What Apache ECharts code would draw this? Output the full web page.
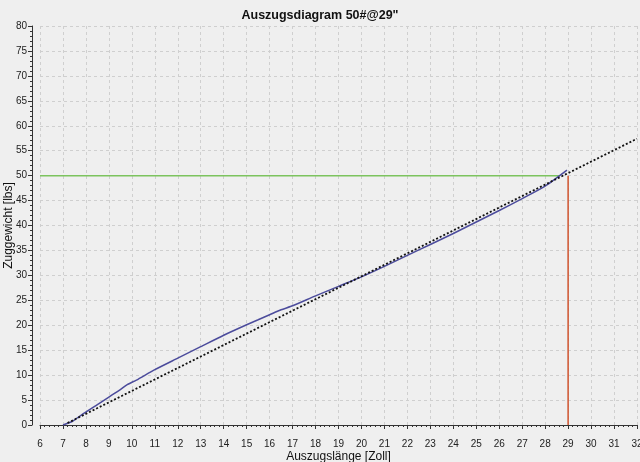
<!DOCTYPE html>
<html><head><meta charset="utf-8">
<script src="https://cdn.jsdelivr.net/npm/echarts@6/dist/echarts.min.js"></script>
<style>html,body{margin:0;padding:0;background:#efefef;overflow:hidden}#c{width:640px;height:462px}</style>
</head><body><div id="c"></div>
<script>
var titleText = 'Auszugsdiagram 50#@29"';
var xName = 'Auszugslänge [Zoll]';
var yName = 'Zuggewicht [lbs]';
// measured draw curve
var curveX = [7.0, 7.4, 7.8, 8.5, 9, 9.5, 9.8, 10.2, 11, 12, 13, 14, 15, 15.5, 16, 16.5, 17, 18, 19, 20, 21, 22, 23, 24, 25, 26, 27, 28, 28.95];
var curveY = [0, 0.7, 2.0, 4.1, 5.6, 7.1, 8.1, 9.0, 11.1, 13.4, 15.7, 18.0, 20.1, 21.1, 22.1, 23.1, 23.9, 25.9, 27.8, 29.7, 31.8, 34.0, 36.2, 38.4, 40.7, 43.0, 45.4, 47.9, 51.1];
// linear reference line
var refX = [7.2, 32];
var refY = [0.4, 57.4];
// target draw weight and length
var targetWeight = 50;
var targetLength = 29;
var greenX = [6, 28.6];
var redY = [0, 50];

function pairs(xs, ys){ return xs.map(function(x,i){ return [x, ys[i]]; }); }

var chart = echarts.init(document.getElementById('c'), null, {renderer:'canvas', width:640, height:462});
var axisFont = {fontFamily:'Liberation Sans', fontSize:10, color:'#222'};
chart.setOption({
  backgroundColor:'#efefef',
  animation:false,
  title:{text:titleText, left:'center', top:4, textStyle:{fontFamily:'Liberation Sans', fontWeight:'bold', fontSize:12.5, color:'#111'}},
  grid:{left:40, right:3, top:26, bottom:37, outerBoundsMode:'none', containLabel:false},
  xAxis:{type:'value', min:6, max:32, interval:1, offset:8,
    name:xName, nameLocation:'middle', nameGap:18, nameMoveOverlap:false,
    nameTextStyle:{fontFamily:'Liberation Sans', fontSize:12, color:'#111', verticalAlign:'top'},
    axisLine:{show:true, lineStyle:{color:'#333', width:1}},
    axisTick:{show:true, length:4, lineStyle:{color:'#333'}},
    minorTick:{show:true, splitNumber:5, length:2, lineStyle:{color:'#333'}},
    axisLabel:{show:true, margin:6, ...axisFont},
    splitLine:{show:true, lineStyle:{color:'#cfcfcf', type:[3,3], width:1}}
  },
  yAxis:{type:'value', min:0, max:80, interval:5, offset:8,
    name:yName, nameLocation:'middle', nameGap:17, nameMoveOverlap:false,
    nameTextStyle:{fontFamily:'Liberation Sans', fontSize:12, color:'#111', verticalAlign:'bottom'},
    axisLine:{show:true, lineStyle:{color:'#333', width:1}},
    axisTick:{show:true, length:4, lineStyle:{color:'#333'}},
    minorTick:{show:true, splitNumber:5, length:2, lineStyle:{color:'#333'}},
    axisLabel:{show:true, margin:5, ...axisFont},
    splitLine:{show:true, lineStyle:{color:'#cfcfcf', type:[3,3], width:1}}
  },
  series:[
    {type:'line', data:pairs(greenX,[targetWeight,targetWeight]), symbol:'none', lineStyle:{color:'#7cc35e', width:1.5}, z:2},
    {type:'line', data:pairs([targetLength,targetLength], redY), symbol:'none', lineStyle:{color:'#d0542f', width:1.5}, z:2},
    {type:'line', data:pairs(curveX, curveY), symbol:'none', smooth:0.2, lineStyle:{color:'#4c4c9c', width:1.5}, z:3},
    {type:'line', data:pairs(refX, refY), symbol:'none', lineStyle:{color:'#111', width:1.8, type:[2,2]}, z:4}
  ]
});
</script></body></html>
